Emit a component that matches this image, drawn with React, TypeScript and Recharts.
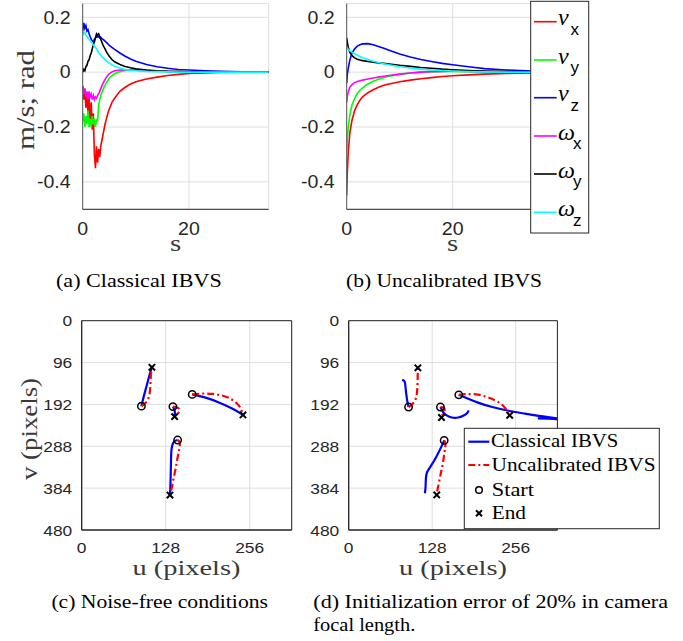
import React from 'react';
import { LineChart, Line, XAxis, YAxis, CartesianGrid, ComposedChart, Scatter, ReferenceArea } from 'recharts';

// ---------- (a) Classical IBVS velocities ----------
const tClassical = [0, 0.2, 0.4, 0.6, 0.8, 1.0, 1.2, 1.4, 1.6, 1.8, 2.0, 2.2, 2.4, 2.6, 2.8, 3.0, 3.2, 3.4, 3.6, 3.8, 4.0, 4.2, 4.4, 4.6, 4.8, 5.0, 5.5, 6, 7, 8, 9, 10, 12, 14, 16, 18, 20, 23, 26, 30, 35];
const vxClassical = [-0.05, -0.10, -0.06, -0.13, -0.08, -0.15, -0.09, -0.18, -0.11, -0.21, -0.15, -0.30, -0.35, -0.27, -0.33, -0.28, -0.31, -0.27, -0.25, -0.23, -0.21, -0.19, -0.175, -0.16, -0.145, -0.135, -0.11, -0.095, -0.07, -0.055, -0.043, -0.035, -0.025, -0.018, -0.012, -0.008, -0.005, -0.003, -0.001, 0, 0];
const vyClassical = [-0.18, -0.15, -0.2, -0.16, -0.19, -0.14, -0.2, -0.17, -0.2, -0.16, -0.19, -0.17, -0.2, -0.17, -0.18, -0.12, -0.1, -0.085, -0.075, -0.065, -0.055, -0.048, -0.04, -0.034, -0.028, -0.022, -0.013, -0.006, 0.002, 0.006, 0.007, 0.007, 0.006, 0.004, 0.003, 0.002, 0.001, 0, 0, 0, 0];
const vzClassical = [0.15, 0.18, 0.16, 0.17, 0.15, 0.155, 0.14, 0.13, 0.12, 0.115, 0.11, 0.12, 0.125, 0.13, 0.128, 0.13, 0.125, 0.128, 0.122, 0.12, 0.117, 0.113, 0.11, 0.106, 0.102, 0.098, 0.09, 0.083, 0.07, 0.058, 0.048, 0.04, 0.028, 0.02, 0.014, 0.01, 0.008, 0.005, 0.003, 0.001, 0];
const wxClassical = [-0.05, -0.08, -0.06, -0.09, -0.07, -0.1, -0.07, -0.09, -0.08, -0.1, -0.085, -0.1, -0.09, -0.095, -0.085, -0.08, -0.07, -0.06, -0.05, -0.042, -0.034, -0.027, -0.02, -0.015, -0.01, -0.006, 0.001, 0.005, 0.008, 0.009, 0.009, 0.008, 0.006, 0.004, 0.003, 0.002, 0.001, 0, 0, 0, 0];
const wyClassical = [0, 0.01, 0.005, 0.02, 0.025, 0.04, 0.045, 0.06, 0.07, 0.085, 0.1, 0.11, 0.125, 0.14, 0.135, 0.14, 0.13, 0.12, 0.11, 0.1, 0.092, 0.085, 0.077, 0.07, 0.064, 0.058, 0.046, 0.038, 0.028, 0.021, 0.016, 0.012, 0.008, 0.005, 0.003, 0.002, 0.001, 0, 0, 0, 0];
const wzClassical = [0.15, 0.14, 0.145, 0.135, 0.13, 0.125, 0.12, 0.115, 0.11, 0.105, 0.1, 0.095, 0.09, 0.085, 0.078, 0.072, 0.067, 0.062, 0.057, 0.053, 0.049, 0.045, 0.042, 0.039, 0.036, 0.033, 0.027, 0.022, 0.015, 0.01, 0.007, 0.005, 0.003, 0.002, 0.001, 0, 0, 0, 0, 0, 0];

// ---------- (b) Uncalibrated IBVS velocities ----------
const tUncal = [0, 0.1, 0.3, 0.6, 1, 1.5, 2, 2.5, 3, 4, 5, 6, 7, 8, 10, 12, 14, 16, 18, 20, 23, 26, 30, 35, 40];
const vxUncal = [-0.45, -0.37, -0.29, -0.22, -0.175, -0.14, -0.118, -0.102, -0.09, -0.075, -0.064, -0.055, -0.048, -0.043, -0.035, -0.029, -0.024, -0.02, -0.016, -0.013, -0.01, -0.007, -0.005, -0.003, -0.002];
const vyUncal = [-0.3, -0.25, -0.2, -0.155, -0.12, -0.095, -0.078, -0.066, -0.057, -0.043, -0.033, -0.026, -0.02, -0.015, -0.008, -0.003, 0, 0.002, 0.003, 0.003, 0.002, 0.001, 0, 0, 0];
const vzUncal = [-0.04, -0.01, 0.015, 0.045, 0.07, 0.085, 0.095, 0.1, 0.103, 0.104, 0.1, 0.094, 0.087, 0.08, 0.066, 0.055, 0.046, 0.039, 0.032, 0.027, 0.02, 0.013, 0.008, 0.004, 0.002];
const wxUncal = [-0.11, -0.09, -0.07, -0.055, -0.045, -0.038, -0.034, -0.031, -0.029, -0.025, -0.021, -0.018, -0.015, -0.012, -0.007, -0.003, 0, 0.002, 0.003, 0.004, 0.003, 0.002, 0.001, 0, 0];
const wyUncal = [0.125, 0.11, 0.09, 0.072, 0.06, 0.052, 0.047, 0.044, 0.042, 0.039, 0.036, 0.034, 0.032, 0.03, 0.025, 0.021, 0.017, 0.014, 0.011, 0.009, 0.006, 0.004, 0.002, 0.001, 0];
const wzUncal = [0.09, 0.088, 0.083, 0.078, 0.073, 0.067, 0.062, 0.057, 0.053, 0.046, 0.04, 0.035, 0.031, 0.027, 0.02, 0.015, 0.011, 0.008, 0.006, 0.004, 0.002, 0.001, 0, 0, 0];

const velTicksY = [-0.4, -0.2, 0, 0.2];
const velTicksX = [0, 20];
const seriesKeys = ['vx', 'vy', 'vz', 'wx', 'wy', 'wz'];
const seriesColors = ['#ff0000', '#00ff00', '#0000ff', '#ff00ff', '#000000', '#00ffff'];
const seriesGreek = ['\u03BD', '\u03BD', '\u03BD', '\u03C9', '\u03C9', '\u03C9'];
const seriesSub = ['x', 'y', 'z', 'x', 'y', 'z'];

// ---------- (c) Noise-free feature trajectories (u, v pixels) ----------
const classicalC: number[][][] = [
  [[91, 196], [93.5, 180], [97, 160], [102, 132], [105, 116], [107, 107]],
  [[168.4, 169], [190, 177], [210, 188], [230, 202], [245.8, 216]],
  [[139, 197], [141, 203], [142, 211], [141.6, 220]],
  [[146.2, 273.7], [141, 277], [138, 286], [136.5, 302], [136, 330], [135.5, 360], [135, 385], [134.5, 400]],
];
const uncalC: number[][][] = [
  [[91, 196], [98.6, 186], [103.5, 167], [105, 136], [106, 115], [107, 107]],
  [[168.4, 169], [185, 167], [200, 168], [215, 172], [228, 180], [238, 192], [243, 203], [245.8, 216]],
  [[139, 197], [145, 199], [149, 203], [148, 210], [144, 216], [141.6, 220]],
  [[146.2, 273.7], [149.5, 280], [148.5, 295], [146, 315], [143, 340], [140, 362], [137, 385], [134.5, 400]],
];
const startsC = [[91, 196], [168.4, 169], [139, 197], [146.2, 273.7]];
const endsC = [[107, 107], [245.8, 216], [141.6, 220], [134.5, 400]];

// ---------- (d) 20% focal length error trajectories ----------
const classicalD: number[][][] = [
  [[91.8, 198], [90, 186], [88.6, 172], [87.2, 154], [86.2, 142], [84.5, 137.5], [82, 135.5]],
  [[168.8, 170], [185, 180], [200.4, 189], [220, 198], [246.8, 207], [270, 213], [295, 219], [319, 224], [324, 226], [305, 224.5], [290, 224]],
  [[140.7, 198], [144, 208], [149, 216], [158, 222], [168, 222], [177, 217], [182, 211], [184, 205.5]],
  [[146.4, 274.5], [141.8, 290], [134, 313], [126.5, 332], [120.3, 347], [118.3, 363], [117.8, 382], [116.8, 395.7]],
];
const uncalD: number[][][] = [
  [[91.8, 198], [98.4, 190], [103, 178], [104.8, 163], [105.5, 145], [105.8, 125], [106, 108]],
  [[168.8, 170], [180, 168.5], [195, 169], [210, 174], [225, 183], [236, 194], [242, 205], [246.8, 217]],
  [[140.7, 198], [145, 199], [147, 203], [146, 211], [143.3, 217], [142.3, 222]],
  [[146.4, 274.5], [148.4, 282], [147, 300], [144.3, 328], [141.5, 348], [139, 366.6], [136.5, 385], [135, 399.5]],
];
const startsD = [[91.8, 198], [168.8, 170], [140.7, 198], [146.4, 274.5]];
const endsD = [[106, 108], [246.8, 217], [142.3, 222], [135, 399.5]];

const pixTicksU = [0, 128, 256];
const pixTicksV = [0, 96, 192, 288, 384, 480];

// ---------- helpers ----------
const SANS = 'Liberation Sans, Arial, Helvetica, sans-serif';
const SERIF = 'Liberation Serif, Times New Roman, serif';
const AX = '#262626';
const LABEL = '#3a3a3a';
const GRID = '#dedede';

const buildRows = (t: number[], arrs: number[][]) =>
  t.map((tv, i) => {
    const r: any = { t: tv };
    seriesKeys.forEach((k, j) => (r[k] = arrs[j][i]));
    return r;
  });
const rowsA = buildRows(tClassical, [vxClassical, vyClassical, vzClassical, wxClassical, wyClassical, wzClassical]);
const rowsB = buildRows(tUncal, [vxUncal, vyUncal, vzUncal, wxUncal, wyUncal, wzUncal]);
const toPts = (a: number[][]) => a.map(([u, v]) => ({ u, v }));

const fmt = (v: number) => (v === 0 ? '0' : String(v));

const makeYTick = (size: number, gap: number) => (p: any) => (
  <g transform={`translate(${p.x - gap},${p.y}) scale(1.12,1)`}>
    <text x={0} y={size * 0.36} textAnchor="end" fontSize={size} fontFamily={SANS} fill={AX}>
      {fmt(p.payload.value)}
    </text>
  </g>
);
const makeXTick = (size: number, gap: number) => (p: any) => (
  <g transform={`translate(${p.x},${p.y + gap}) scale(1.12,1)`}>
    <text x={0} y={0} textAnchor="middle" fontSize={size} fontFamily={SANS} fill={AX}>
      {fmt(p.payload.value)}
    </text>
  </g>
);

const CircleMark = (p: any) => <circle cx={p.cx} cy={p.cy} r={3.7} fill="none" stroke="#000" strokeWidth={1.5} />;
const CrossMark = (p: any) => (
  <g stroke="#000" strokeWidth={2}>
    <line x1={p.cx - 3.2} y1={p.cy - 3.2} x2={p.cx + 3.2} y2={p.cy + 3.2} />
    <line x1={p.cx - 3.2} y1={p.cy + 3.2} x2={p.cx + 3.2} y2={p.cy - 3.2} />
  </g>
);

function VelChart({ rows, xMax, right, width }: any) {
  return (
    <LineChart width={width} height={250} data={rows} margin={{ top: 3.6, right, left: 0, bottom: 0 }}>
      <CartesianGrid stroke={GRID} />
      <XAxis type="number" dataKey="t" domain={[0, xMax]} ticks={velTicksX} height={40.7} tickSize={0} tickLine={false}
        axisLine={{ stroke: AX }} tick={makeXTick(17.5, 24)} allowDataOverflow />
      <YAxis type="number" domain={[-0.5, 0.25]} ticks={velTicksY} width={82.7} tickSize={0} tickLine={false}
        axisLine={{ stroke: '#555' }} tick={makeYTick(17.5, 10)} allowDataOverflow />
      {seriesKeys.map((k, i) => (
        <Line key={k} dataKey={k} stroke={seriesColors[i]} strokeWidth={1.6} dot={false} type="linear" isAnimationActive={false} />
      ))}
    </LineChart>
  );
}

function TrajChart({ classical, uncal, starts, ends, right }: any) {
  return (
    <ComposedChart width={300} height={280} margin={{ top: 20.7, right, left: 0, bottom: 0 }}>
      <CartesianGrid stroke={GRID} />
      <XAxis type="number" dataKey="u" domain={[0, 320]} ticks={pixTicksU} height={50} tickSize={0} tickLine={false}
        axisLine={{ stroke: AX }} tick={makeXTick(15.5, 20.5)} allowDataOverflow />
      <YAxis type="number" dataKey="v" domain={[0, 480]} reversed ticks={pixTicksV} width={81.7} tickSize={0} tickLine={false}
        axisLine={{ stroke: AX }} tick={makeYTick(15.5, 7.5)} allowDataOverflow />
      <ReferenceArea x1={0} x2={320} y1={0} y2={480} fill="none" stroke={AX} strokeWidth={1} />
      {classical.map((tr: number[][], i: number) => (
        <Line key={'c' + i} data={toPts(tr)} dataKey="v" stroke="#0000ff" strokeWidth={2.2} dot={false} type="natural" isAnimationActive={false} />
      ))}
      {uncal.map((tr: number[][], i: number) => (
        <Line key={'u' + i} data={toPts(tr)} dataKey="v" stroke="#ff0000" strokeWidth={2.2} strokeDasharray="7 3 2 3" dot={false} type="natural" isAnimationActive={false} />
      ))}
      <Scatter data={toPts(starts)} shape={CircleMark} isAnimationActive={false} />
      <Scatter data={toPts(ends)} shape={CrossMark} isAnimationActive={false} />
    </ComposedChart>
  );
}

function T({ x, y, size, len, anchor = 'start', family = SERIF, rotate = 0, fill = '#000', children, sx = 1, italic = false }: any) {
  return (
    <text x={0} y={0} transform={`translate(${x},${y}) rotate(${rotate}) scale(${sx},1)`} fontSize={size} fontFamily={family}
      textAnchor={anchor} fill={fill} fontStyle={italic ? 'italic' : 'normal'}
      {...(len ? { textLength: len, lengthAdjust: 'spacingAndGlyphs' } : {})}>
      {children}
    </text>
  );
}

const legendRowsY = [21.7, 60, 97.7, 136, 174, 212.3];

export default function App() {
  return (
    <div style={{ position: 'absolute', left: 0, top: 0, width: 683, height: 641, background: '#fff', overflow: 'hidden' }}>
      <div style={{ position: 'absolute', left: 0, top: 0 }}>
        <VelChart rows={rowsA} xMax={35} right={31.3} width={300} />
      </div>
      <div style={{ position: 'absolute', left: 264, top: 0 }}>
        <VelChart rows={rowsB} xMax={40} right={25.3} width={320} />
      </div>
      <div style={{ position: 'absolute', left: 0, top: 300 }}>
        <TrajChart classical={classicalC} uncal={uncalC} starts={startsC} ends={endsC} right={8.3} />
      </div>
      <div style={{ position: 'absolute', left: 267.3, top: 300 }}>
        <TrajChart classical={classicalD} uncal={uncalD} starts={startsD} ends={endsD} right={9.6} />
      </div>
      <svg width={683} height={641} style={{ position: 'absolute', left: 0, top: 0, pointerEvents: 'none' }}>
        {/* axis labels */}
        <T x={34} y={100} size={25} len={100} anchor="middle" rotate={-90} fill={LABEL}>m/s; rad</T>
        <T x={175.7} y={251} size={24} anchor="middle" sx={1.2} fill={LABEL}>s</T>
        <T x={452.7} y={251} size={24} anchor="middle" sx={1.2} fill={LABEL}>s</T>
        <T x={37} y={429} size={24} len={102} anchor="middle" rotate={-90} fill={LABEL}>v (pixels)</T>
        <T x={186.5} y={575} size={22} len={108} anchor="middle" fill={LABEL}>u (pixels)</T>
        <T x={453} y={575} size={22} len={108} anchor="middle" fill={LABEL}>u (pixels)</T>
        {/* captions */}
        <T x={56} y={287} size={18} len={165.7}>(a) Classical IBVS</T>
        <T x={346} y={287} size={18} len={196}>(b) Uncalibrated IBVS</T>
        <T x={51.4} y={608} size={18} len={216.6}>(c) Noise-free conditions</T>
        <T x={313.3} y={608} size={18} len={354.7}>(d) Initialization error of 20% in camera</T>
        <T x={313.3} y={631} size={18} len={102}>focal length.</T>
        {/* velocity legend */}
        <rect x={530.7} y={1.3} width={58} height={231.7} fill="#fff" stroke={AX} strokeWidth={1} />
        {seriesKeys.map((k, i) => (
          <g key={k}>
            <line x1={534} x2={556.7} y1={legendRowsY[i]} y2={legendRowsY[i]} stroke={seriesColors[i]} strokeWidth={1.6} />
            <T x={558} y={legendRowsY[i] + 3.5} size={24} italic>{seriesGreek[i]}</T>
            <T x={i < 3 ? 570.5 : 573} y={legendRowsY[i] + 13.3} size={17} family={SANS}>{seriesSub[i]}</T>
          </g>
        ))}
        {/* trajectory legend */}
        <rect x={464.3} y={428.3} width={195} height={100.4} fill="#fff" stroke={AX} strokeWidth={1} />
        <line x1={468.3} x2={489.3} y1={441.7} y2={441.7} stroke="#0000ff" strokeWidth={2.2} />
        <T x={491} y={446.7} size={18} len={127.3}>Classical IBVS</T>
        <line x1={468.3} x2={489.3} y1={465} y2={465} stroke="#ff0000" strokeWidth={2.2} strokeDasharray="7 3 2 3" />
        <T x={491.5} y={470.7} size={18} len={164}>Uncalibrated IBVS</T>
        <circle cx={479} cy={490} r={3.3} fill="none" stroke="#000" strokeWidth={1.5} />
        <T x={491.7} y={496} size={18} len={42.3}>Start</T>
        <g stroke="#000" strokeWidth={2}>
          <line x1={476} y1={510.3} x2={482} y2={516.3} />
          <line x1={476} y1={516.3} x2={482} y2={510.3} />
        </g>
        <T x={491.7} y={519.3} size={18} len={34.3}>End</T>
      </svg>
    </div>
  );
}
